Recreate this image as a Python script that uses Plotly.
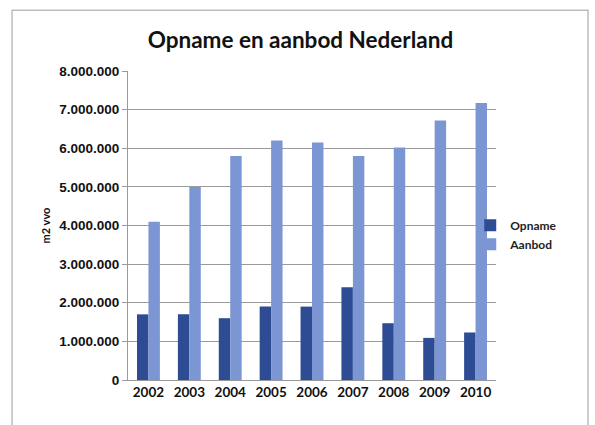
import plotly.graph_objects as go

years = ["2002", "2003", "2004", "2005", "2006", "2007", "2008", "2009", "2010"]
opname = [1700000, 1700000, 1600000, 1900000, 1900000, 2400000, 1470000, 1090000, 1230000]
aanbod = [4100000, 5000000, 5800000, 6200000, 6150000, 5800000, 6020000, 6720000, 7170000]
y_ticks = [0, 1000000, 2000000, 3000000, 4000000, 5000000, 6000000, 7000000, 8000000]

fig = go.Figure()
fig.add_trace(go.Bar(name="Opname", x=years, y=opname, marker=dict(color="#2E4C94", line=dict(width=0))))
fig.add_trace(go.Bar(name="Aanbod", x=years, y=aanbod, marker=dict(color="#7C96D3", line=dict(width=0))))

fig.update_layout(
    width=595,
    height=425,
    paper_bgcolor="white",
    plot_bgcolor="white",
    barmode="group",
    bargap=0.44,
    bargroupgap=0,
    separators=",.",
    margin=dict(l=128, r=99, t=71, b=45),
    title=dict(
        text="Opname en aanbod Nederland",
        x=0.505,
        xanchor="center",
        y=0.905,
        yanchor="middle",
        font=dict(family="Lato", size=22.5, color="#111111", weight="bold"),
    ),
    font=dict(family="Liberation Sans", color="#111111"),
    legend=dict(
        x=0.93,
        xanchor="left",
        y=0.47,
        yanchor="middle",
        bgcolor="rgba(0,0,0,0)",
        font=dict(family="Lato", size=12, color="#222222", weight="bold"),
        itemwidth=30,
        tracegroupgap=2,
    ),
    shapes=[
        dict(type="rect", xref="paper", yref="paper", x0=-0.315, x1=1.25, y0=-0.15, y1=1.197,
             line=dict(color="#BDBDBD", width=1.5), fillcolor="rgba(0,0,0,0)", layer="below"),
    ],
)

fig.update_xaxes(
    showline=True,
    linecolor="#9A9A9A",
    linewidth=1,
    ticks="",
    tickfont=dict(family="Lato", size=13.5, color="#111111", weight="bold"),
    showgrid=False,
)
fig.update_yaxes(
    range=[0, 8000000],
    tickvals=y_ticks,
    tickformat=",d",
    showgrid=True,
    gridcolor="#9A9A9A",
    gridwidth=1,
    showline=True,
    linecolor="#9A9A9A",
    linewidth=1,
    ticks="outside",
    ticklen=5,
    tickcolor="#9A9A9A",
    tickfont=dict(family="Liberation Sans", size=13.5, color="#111111", weight="bold"),
    title=dict(text="m2 vvo", font=dict(family="Lato", size=11, color="#111111", weight="bold"), standoff=6),
)

fig.write_html("out.html")
